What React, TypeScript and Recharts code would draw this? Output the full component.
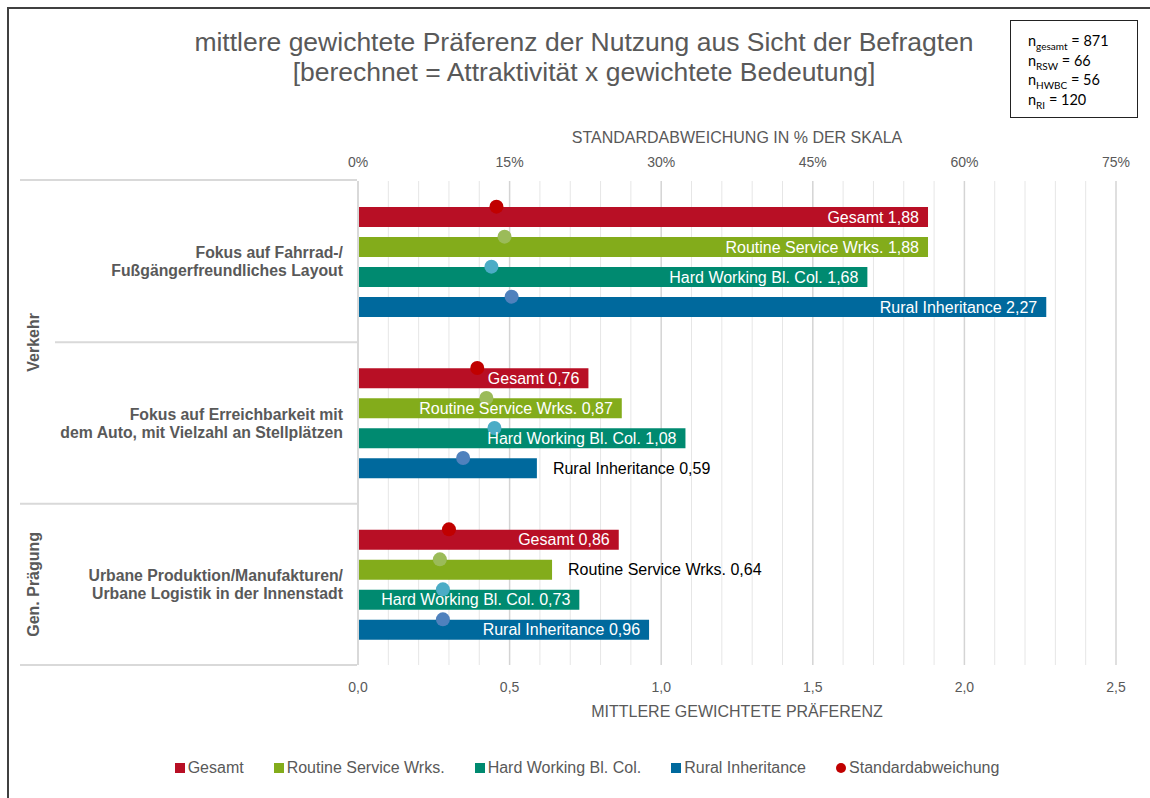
import { ComposedChart, Bar, Scatter, XAxis, YAxis, CartesianGrid, Legend } from 'recharts'

const FONT = '"Liberation Sans", Arial, sans-serif'
const GREY = '#595959'

const categories = [
  'Fokus auf Fahrrad-/\nFußgängerfreundliches Layout',
  'Fokus auf Erreichbarkeit mit\ndem Auto, mit Vielzahl an Stellplätzen',
  'Urbane Produktion/Manufakturen/\nUrbane Logistik in der Innenstadt',
]
const groups = ['Verkehr', 'Verkehr', 'Gen. Prägung']

// mittlere gewichtete Präferenz
const gesamt = [1.88, 0.76, 0.86]
const rsw = [1.88, 0.87, 0.64]
const hwbc = [1.68, 1.08, 0.73]
const ri = [2.27, 0.59, 0.96]

// Standardabweichung in % der Skala
const gesamtSd = [13.7, 11.8, 9.0]
const rswSd = [14.5, 12.7, 8.1]
const hwbcSd = [13.2, 13.5, 8.4]
const riSd = [15.2, 10.4, 8.4]

const valTicks = [0, 0.5, 1, 1.5, 2, 2.5]
const minorTicks = [0.1, 0.2, 0.3, 0.4, 0.6, 0.7, 0.8, 0.9, 1.1, 1.2, 1.3, 1.4, 1.6, 1.7, 1.8, 1.9, 2.1, 2.2, 2.3, 2.4]
const sdTicks = [0, 15, 30, 45, 60, 75]

const series = [
  { key: 'gesamt', sdKey: 'gesamtSd', name: 'Gesamt', color: '#B80F25', dot: '#C00000' },
  { key: 'rsw', sdKey: 'rswSd', name: 'Routine Service Wrks.', color: '#83AC1B', dot: '#9BBB59' },
  { key: 'hwbc', sdKey: 'hwbcSd', name: 'Hard Working Bl. Col.', color: '#008A70', dot: '#4BACC6' },
  { key: 'ri', sdKey: 'riSd', name: 'Rural Inheritance', color: '#00699D', dot: '#4F81BD' },
]

const rows = categories.map((name, i) => ({
  name,
  gesamt: gesamt[i], rsw: rsw[i], hwbc: hwbc[i], ri: ri[i],
  gesamtSd: gesamtSd[i], rswSd: rswSd[i], hwbcSd: hwbcSd[i], riSd: riSd[i],
}))

const W = 1150
const H = 798
const M = { top: 126, right: 34, bottom: 73, left: 20 }
const TOP_AXIS_H = 55
const BOTTOM_AXIS_H = 60
const PLOT_TOP = M.top + TOP_AXIS_H
const PLOT_BOTTOM = H - M.bottom - BOTTOM_AXIS_H
const BAR = 20
const GAP = 10
const VAL_MAX = 2.5

const fmt = (v: number, d = 2) => v.toFixed(d).replace('.', ',')

// minor grid positions through the value axis scale
function minorGrid({ xAxis, offset }: any) {
  const sc = xAxis && xAxis.scale
  if (typeof sc === 'function') return minorTicks.map(t => sc(t))
  if (sc && typeof sc.map === 'function') return minorTicks.map(t => sc.map(t))
  return minorTicks.map(t => offset.left + (t / VAL_MAX) * offset.width)
}

function CatTick(props: any) {
  const { x, y, payload } = props
  const i = typeof props.index === 'number' ? props.index : categories.indexOf(payload.value)
  const band = (PLOT_BOTTOM - PLOT_TOP) / categories.length
  const lines = String(payload.value).split('\n')
  const g = groups[i]
  const first = groups.indexOf(g)
  const last = groups.lastIndexOf(g)
  const nextSame = groups[i + 1] === g
  const axisX = M.left + 337
  return (
    <g>
      {lines.map((l, k) => (
        <text key={k} x={x} y={y + (k - (lines.length - 1) / 2) * 18} dy="0.35em" textAnchor="end"
          fontWeight="bold" fontSize={15.8} fill={GREY} fontFamily={FONT}>{l}</text>
      ))}
      {i === 0 && <line x1={20} x2={axisX} y1={y - band / 2 - 1} y2={y - band / 2 - 1} stroke="#D9D9D9" strokeWidth={2} />}
      <line x1={nextSame ? 55 : 20} x2={axisX} y1={y + band / 2} y2={y + band / 2} stroke="#D9D9D9" strokeWidth={2} />
      {i === first && (
        <text transform={`translate(33, ${y + ((last - first) / 2) * band}) rotate(-90)`} textAnchor="middle" dy="0.35em"
          fontWeight="bold" fontSize={16} fill={GREY} fontFamily={FONT}>{g}</text>
      )}
    </g>
  )
}

function barLabel(name: string) {
  return (p: any) => {
    const vb = p.viewBox && p.viewBox.width != null ? p.viewBox : p
    const { x, y, width, height } = vb
    const inside = width > 200
    return (
      <text x={inside ? x + width - 9 : x + width + 16} y={y + height / 2} dy="0.36em"
        textAnchor={inside ? 'end' : 'start'} fill={inside ? '#fff' : '#000'} fontSize={16} fontFamily={FONT}>
        {`${name} ${fmt(Number(p.value))}`}
      </text>
    )
  }
}

// dot sits on the top edge of its bar
const dotShape = (i: number, color: string) => (p: any) => {
  const off = -(4 * BAR + 3 * GAP) / 2 + i * (BAR + GAP)
  return <circle cx={p.cx} cy={p.cy + off} r={7} fill={color} />
}

function LegendRow() {
  return (
    <div style={{ display: 'flex', justifyContent: 'center', gap: 30, fontFamily: FONT, fontSize: 16, color: GREY }}>
      {series.map(s => (
        <span key={s.key} style={{ display: 'flex', alignItems: 'center' }}>
          <span style={{ width: 10, height: 10, background: s.color, marginRight: 3 }} />{s.name}
        </span>
      ))}
      <span style={{ display: 'flex', alignItems: 'center' }}>
        <span style={{ width: 10, height: 10, borderRadius: 5, background: '#C00000', marginRight: 3 }} />Standardabweichung
      </span>
    </div>
  )
}

const subStyle = { fontSize: 10, lineHeight: 0 }

export default function App() {
  return (
    <div style={{ position: 'absolute', left: 0, top: 0, width: W, height: H, background: '#fff', overflow: 'hidden' }}>
      <div style={{ position: 'absolute', left: 7, top: 7, right: 0, bottom: 0, borderTop: '2px solid #404040', borderLeft: '2px solid #404040' }} />
      <div style={{ position: 'absolute', left: 84, top: 27, width: 1000, textAlign: 'center', fontFamily: FONT, fontSize: 26.5, lineHeight: '30px', color: GREY }}>
        mittlere gewichtete Präferenz der Nutzung aus Sicht der Befragten<br />
        [berechnet = Attraktivität x gewichtete Bedeutung]
      </div>
      <div style={{ position: 'absolute', left: 1010, top: 20, width: 128, height: 98, border: '1.5px solid #222', fontFamily: 'Lato, "Open Sans", sans-serif', fontSize: 14.5, lineHeight: '19.5px', color: '#000', padding: '10px 0 0 17px', boxSizing: 'border-box' }}>
        <div>n<sub style={subStyle}>gesamt</sub> = 871</div>
        <div>n<sub style={subStyle}>RSW</sub> = 66</div>
        <div>n<sub style={subStyle}>HWBC</sub> = 56</div>
        <div>n<sub style={subStyle}>RI</sub> = 120</div>
      </div>
      <div style={{ position: 'absolute', left: 0, top: 0 }}>
        <ComposedChart width={W} height={H} data={rows} layout="vertical" margin={M} barSize={BAR} barGap={GAP}>
          <CartesianGrid xAxisId="val" horizontal={false} stroke="#E6E6E6" verticalCoordinatesGenerator={minorGrid} />
          <CartesianGrid xAxisId="val" horizontal={false} stroke="#D4D4D4" strokeWidth={1.5} />
          <XAxis xAxisId="sd" orientation="top" type="number" domain={[0, 75]} ticks={sdTicks} height={TOP_AXIS_H}
            axisLine={false} tickLine={false} tickSize={0} tickMargin={14} tickFormatter={v => `${v}%`}
            tick={{ fill: GREY, fontSize: 14, fontFamily: FONT }}
            label={{ value: 'STANDARDABWEICHUNG IN % DER SKALA', position: 'insideTop', offset: 6, fill: GREY, fontSize: 16, fontFamily: FONT }} />
          <XAxis xAxisId="val" orientation="bottom" type="number" domain={[0, VAL_MAX]} ticks={valTicks} height={BOTTOM_AXIS_H}
            axisLine={false} tickLine={false} tickSize={0} tickMargin={17} tickFormatter={v => fmt(v, 1)}
            tick={{ fill: GREY, fontSize: 14, fontFamily: FONT }}
            label={{ value: 'MITTLERE GEWICHTETE PRÄFERENZ', position: 'insideBottom', offset: 8, fill: GREY, fontSize: 16, fontFamily: FONT }} />
          <YAxis type="category" dataKey="name" width={338} interval={0} axisLine={{ stroke: '#D9D9D9', strokeWidth: 2 }}
            tickLine={false} tickSize={0} tickMargin={15} tick={(p: any) => <CatTick {...p} />} />
          {series.map(s => (
            <Bar key={s.key} xAxisId="val" dataKey={s.key} name={s.name} fill={s.color} isAnimationActive={false} label={barLabel(s.name)} />
          ))}
          {series.map((s, i) => (
            <Scatter key={s.sdKey} xAxisId="sd" dataKey={s.sdKey} name="Standardabweichung" fill={s.dot}
              shape={dotShape(i, s.dot)} isAnimationActive={false} />
          ))}
          <Legend layout="horizontal" verticalAlign="middle" align="center" width={W}
            wrapperStyle={{ top: 759, left: 12 }} content={() => <LegendRow />} />
        </ComposedChart>
      </div>
    </div>
  )
}
